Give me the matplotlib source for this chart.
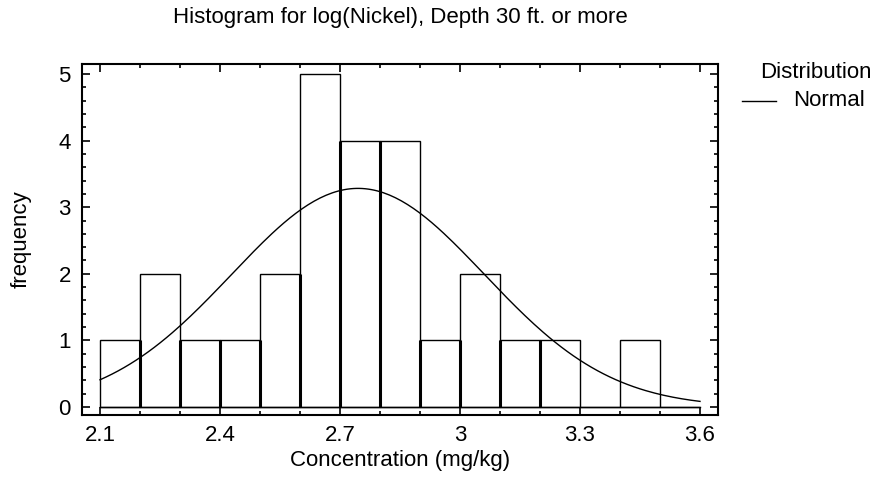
import numpy as np
import matplotlib
matplotlib.use('Agg')
import matplotlib.pyplot as plt
from matplotlib.ticker import MultipleLocator

plt.rcParams['font.family'] = ['Liberation Sans', 'DejaVu Sans']

# ヒストグラムのデータ（階級の左端と度数）
bin_left = [2.1, 2.2, 2.3, 2.4, 2.5, 2.6, 2.7, 2.8, 2.9, 3.0, 3.1, 3.2, 3.3, 3.4, 3.5]
counts = [1, 2, 1, 1, 2, 5, 4, 4, 1, 2, 1, 1, 0, 1, 0]
bin_width = 0.1

# 正規分布のあてはめ（図から読んだ値）
fit_mean = 2.745
fit_sd = 0.316
n_total = sum(counts)

x_ticks = [2.1, 2.4, 2.7, 3.0, 3.3, 3.6]
x_tick_labels = ['2.1', '2.4', '2.7', '3', '3.3', '3.6']

fs = 16

fig = plt.figure(figsize=(8.8, 4.87), dpi=100)
ax = fig.add_axes([82 / 880, 1 - 415 / 487, 636 / 880, 351 / 487])

ax.bar(bin_left, counts, width=bin_width, align='edge',
       facecolor='white', edgecolor='black', linewidth=1.0)
ax.plot([bin_left[0], bin_left[-1] + bin_width], [0, 0], color='black', lw=1.0)

# 隣り合う棒の共有辺は太く見える
for i in range(1, len(bin_left)):
    h = min(counts[i - 1], counts[i])
    if h > 0:
        ax.plot([bin_left[i], bin_left[i]], [0, h], color='black', lw=2.2,
                solid_capstyle='butt')

xs = np.linspace(bin_left[0], bin_left[-1] + bin_width, 200)
ys = n_total * bin_width * np.exp(-0.5 * ((xs - fit_mean) / fit_sd) ** 2) / (fit_sd * np.sqrt(2 * np.pi))
ax.plot(xs, ys, color='black', lw=1.0)

ax.set_xlim(2.055, 3.645)
ax.set_ylim(-0.12, 5.15)
ax.set_xticks(x_ticks)
ax.set_xticklabels(x_tick_labels)
ax.xaxis.set_minor_locator(MultipleLocator(0.1))
ax.set_yticks([0, 1, 2, 3, 4, 5])
ax.yaxis.set_minor_locator(MultipleLocator(0.2))
ax.tick_params(which='both', direction='in', top=True, right=True, labelsize=fs)
ax.tick_params(which='major', length=6, width=1.2)
ax.tick_params(which='minor', length=3, width=1.2)
ax.tick_params(axis='y', pad=8)
ax.tick_params(axis='x', pad=7)
for s in ax.spines.values():
    s.set_linewidth(1.5)

ax.set_xlabel('Concentration (mg/kg)', fontsize=fs, labelpad=3)
ax.set_ylabel('frequency', fontsize=fs)
ax.yaxis.set_label_coords(-0.079, 0.5)
fig.text(400 / 880, 1 - 17 / 487, 'Histogram for log(Nickel), Depth 30 ft. or more',
         ha='center', va='center', fontsize=fs)

# 凡例
fig.text(816 / 880, 1 - 72 / 487, 'Distribution', ha='center', va='center', fontsize=fs)
fig.lines.append(plt.Line2D([742 / 880, 776 / 880], [1 - 101 / 487, 1 - 101 / 487],
                            transform=fig.transFigure, color='black', lw=1.0))
fig.text(793 / 880, 1 - 101 / 487, 'Normal', ha='left', va='center', fontsize=fs)

fig.savefig('out.png', dpi=100)
